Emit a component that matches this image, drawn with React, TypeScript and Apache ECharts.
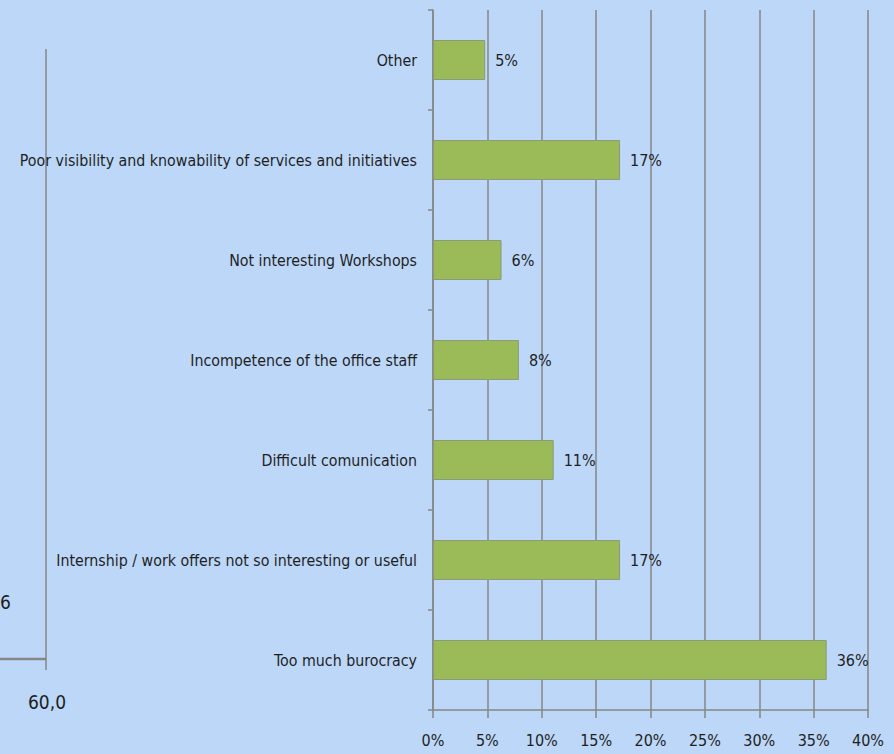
import React, { useEffect, useRef } from "react";
import * as echarts from "echarts";

const categories = [
  "Other",
  "Poor visibility and knowability of services and initiatives",
  "Not interesting Workshops",
  "Incompetence of the office staff",
  "Difficult comunication",
  "Internship / work offers not so interesting or useful",
  "Too much burocracy",
];
const values = [4.8, 17.2, 6.3, 7.9, 11.1, 17.2, 36.2];
const valueLabels = ["5%", "17%", "6%", "8%", "11%", "17%", "36%"];
const xTicks = [0, 5, 10, 15, 20, 25, 30, 35, 40];

const FONT = "'Liberation Sans Narrow', 'DejaVu Sans Condensed', 'Noto Sans', sans-serif";
const TEXT = "#1f1f1f";
const GRID = "#868686";

export default function App() {
  const ref = useRef<HTMLDivElement>(null);
  useEffect(() => {
    if (!ref.current) return;
    const chart = echarts.init(ref.current, null, { renderer: "svg" });
    chart.setOption({
      animation: false,
      backgroundColor: "#BCD7F8",
      textStyle: { fontFamily: FONT },
      grid: { left: 433, right: 26, top: 10, bottom: 44, containLabel: false, outerBoundsMode: "none" },
      xAxis: {
        type: "value",
        min: 0,
        max: 40,
        interval: 5,
        axisLine: { show: true, lineStyle: { color: GRID, width: 1.5 } },
        axisTick: { show: true, length: 8, lineStyle: { color: GRID, width: 1.5 } },
        splitLine: { show: true, lineStyle: { color: GRID, width: 1.5 } },
        axisLabel: {
          margin: 22,
          fontSize: 16,
          color: TEXT,
          fontFamily: FONT,
          formatter: (v: number) => (xTicks.includes(v) ? v + "%" : ""),
        },
      },
      yAxis: {
        type: "category",
        inverse: true,
        data: categories,
        axisLine: { show: true, lineStyle: { color: GRID, width: 1.5 } },
        axisTick: { show: true, length: 5, inside: false, lineStyle: { color: GRID, width: 1.5 } },
        axisLabel: { margin: 16, fontSize: 15.8, color: TEXT, fontFamily: FONT },
        splitLine: { show: false },
      },
      series: [
        {
          type: "bar",
          data: values,
          barWidth: "40%",
          itemStyle: { color: "#9BBB59", borderColor: "#8a9a7a", borderWidth: 1 },
          label: {
            show: true,
            position: "right",
            distance: 10,
            fontSize: 16,
            color: TEXT,
            fontFamily: FONT,
            formatter: (p: any) => valueLabels[p.dataIndex],
          },
        },
      ],
      graphic: [
        { type: "line", shape: { x1: 46, y1: 49, x2: 46, y2: 670 }, style: { stroke: GRID, lineWidth: 1.5 } },
        { type: "line", shape: { x1: 0, y1: 659, x2: 46, y2: 659 }, style: { stroke: GRID, lineWidth: 2.5 } },
        { type: "text", x: 0, y: 602, style: { text: "6", fill: TEXT, font: "19px " + FONT, textVerticalAlign: "middle" } },
        { type: "text", x: 28, y: 702, style: { text: "60,0", fill: TEXT, font: "19px " + FONT, textVerticalAlign: "middle" } },
      ],
    });
    return () => chart.dispose();
  }, []);
  return <div ref={ref} style={{ width: 894, height: 754, position: "absolute", left: 0, top: 0 }} />;
}
